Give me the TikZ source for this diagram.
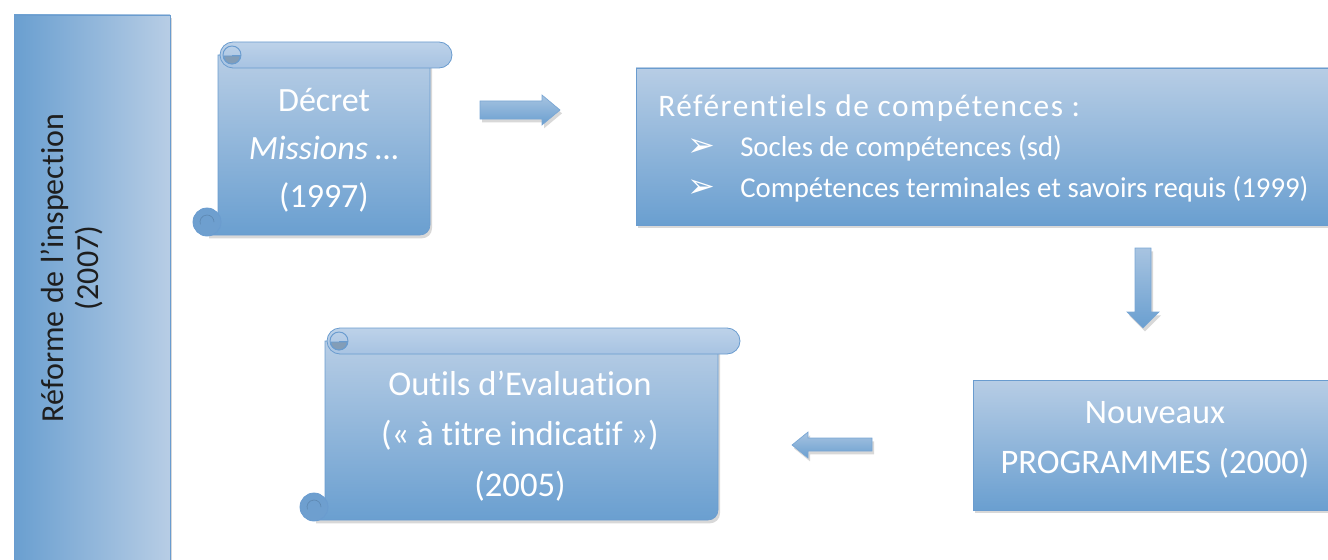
\documentclass[tikz,border=0pt]{standalone}
\usepackage{fontspec}
\setmainfont{Carlito}[Ligatures=NoCommon]
\newfontfamily\dejavu{DejaVu Sans}
\newfontfamily\widefont{Carlito}[LetterSpace=5,Ligatures=NoCommon]
\usetikzlibrary{shadows}
\definecolor{boxlight}{HTML}{B7CDE5}
\definecolor{boxdark}{HTML}{6A9FD0}
\definecolor{boxline}{HTML}{6A9CCF}
\definecolor{rolllight}{HTML}{BDD2E9}
\definecolor{rolldark}{HTML}{A7C3E2}
\definecolor{curl}{HTML}{6E9FCF}
\definecolor{txtdark}{HTML}{1E1E1E}
\tikzset{
  sh/.style={drop shadow={shadow xshift=1.5pt,shadow yshift=-2.5pt,opacity=0.22,fill=black!70}},
  boxfill/.style={top color=boxlight,bottom color=boxdark,draw=boxline,line width=0.5pt},
  rollfill/.style={top color=rolllight,bottom color=rolldark,draw=boxline,line width=0.6pt},
  curlfill/.style={fill=curl,draw=boxline,line width=0.6pt},
  arrowfill/.style={top color=boxlight!80!boxdark,bottom color=boxdark,draw=boxline!90,line width=0.5pt,sh},
  wtxt/.style={text=white,align=center,font=\fontsize{25.5}{36}\selectfont,inner sep=0pt},
  btxt/.style={text=white,anchor=west,inner sep=0pt,font=\fontsize{21.6}{24}\selectfont},
  bullet/.style={text=white,inner sep=0pt,font=\dejavu\fontsize{25}{26}\selectfont},
}
% scroll: #1 left x of body, #2 right x of body, #3 top y, #4 bottom y
\newcommand\myscroll[4]{%
  \path[boxfill,sh] (#1,#3+13) -- (#2,#3+13) -- (#2,#4-10) arc (0:90:10) -- (#1-11,#4) -- (#1-11,#4-20) -- (#1,#4-20) -- cycle;
  \path[curlfill] (#1-11,#4-13) circle (14);
  \draw[boxline!60!black,line width=0.5pt,opacity=0.35] (#1-11,#4-13) ++(7,0) arc (0:-200:7);
  \path[rollfill] (#1+2+13,#3) -- (#2+22-13,#3) arc (-90:90:13) -- (#1+2+13,#3+26) arc (90:270:13) -- cycle;
  \path[fill=curl!60!gray!90,draw=boxline,line width=0.5pt] (#1+14,#3+14) ++(8,0) arc (0:180:8) -- cycle;
  \draw[boxline,line width=0.7pt] (#1+14,#3+13) circle (9);
  \draw[boxline,line width=0.7pt] (#1+23,#3+13) -- (#1+14,#3+13);
}
\begin{document}
\begin{tikzpicture}[x=0.75pt,y=-0.75pt]
\useasboundingbox (0,0) rectangle (1328,560);
% left bar
\path[left color=boxdark,right color=boxlight,draw=boxline,line width=0.5pt,sh] (14,15) rectangle (170,575);
\node[rotate=90,text=txtdark,align=center,font=\fontsize{24}{26.5}\selectfont,inner sep=0pt] (bar) at (72,268) {Réforme de l’inspection\\(2007)};
% scroll 1
\myscroll{218}{430}{42}{235}
\node[wtxt] (decret) at (324,150) {Décret\\\textit{Missions …}\\(1997)};
% arrow right
\path[arrowfill] (480,101) -- (542,101) -- (542,95) -- (560,110) -- (542,125) -- (542,119) -- (480,119) -- cycle;
% referentiels box
\path[boxfill,sh] (636,68) rectangle (1345,225);
\node[btxt,font=\widefont\fontsize{23.5}{26}\selectfont,anchor=west] (reft) at (658,108) {Référentiels de compétences :};
\node[bullet] (b1) at (701,148) {➢};
\node[btxt] (s1) at (740,148) {Socles de compétences (sd)};
\node[bullet] (b2) at (701,189) {➢};
\node[btxt] (s2) at (740,189) {Compétences terminales et savoirs requis (1999)};
% arrow down
\path[arrowfill] (1135,248) -- (1151,248) -- (1151,312) -- (1159,312) -- (1143,328) -- (1127,312) -- (1135,312) -- cycle;
% nouveaux programmes box
\path[boxfill,sh] (973,380) rectangle (1345,510);
\node[wtxt,font=\fontsize{25.8}{38}\selectfont] (prog) at (1155,440) {Nouveaux\\PROGRAMMES (2000)};
% arrow left
\path[arrowfill] (872,438) -- (808,438) -- (808,432) -- (792,445) -- (808,458) -- (808,451) -- (872,451) -- cycle;
% scroll 2
\myscroll{325}{718}{328}{520}
\node[wtxt,font=\fontsize{26}{38}\selectfont] (outils) at (520,436) {Outils d’Evaluation\\(« à titre indicatif »)\\(2005)};
\end{tikzpicture}
\end{document}
